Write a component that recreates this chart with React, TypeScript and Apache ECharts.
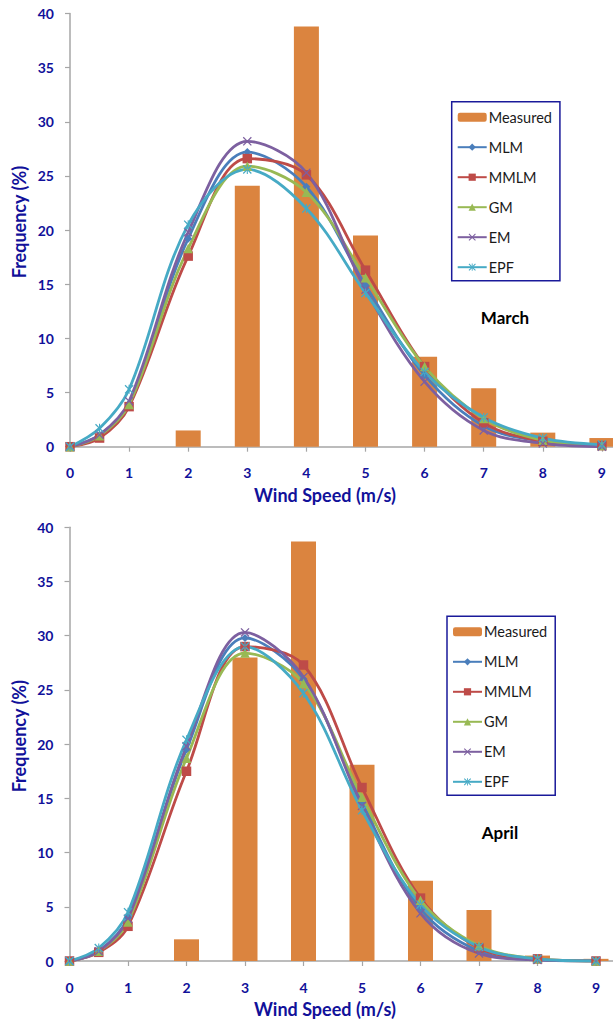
import React, { useEffect, useRef } from "react";
import * as echarts from "echarts";

const xs = [0, 0.5, 1, 2, 3, 4, 5, 6, 7, 8, 9];
const barXs = [2, 3, 4, 5, 6, 7, 8, 9];
const xTicks = [0, 1, 2, 3, 4, 5, 6, 7, 8, 9];

// March
const measuredMar = [1.5, 24.1, 38.8, 19.5, 8.3, 5.4, 1.3, 0.8];
const mlmMar = [0, 1.1, 4.0, 19.2, 27.2, 24.0, 14.9, 6.6, 1.9, 0.5, 0.1];
const mmlmMar = [0, 0.8, 3.7, 17.6, 26.6, 25.1, 16.3, 7.4, 2.2, 0.5, 0.1];
const gmMar = [0, 1.0, 3.9, 18.3, 25.9, 23.5, 15.6, 7.4, 2.6, 0.6, 0.1];
const emMar = [0, 1.1, 4.2, 19.8, 28.2, 25.3, 14.5, 6.0, 1.5, 0.3, 0.0];
const epfMar = [0, 1.7, 5.3, 20.5, 25.6, 22.0, 14.2, 6.9, 2.7, 0.8, 0.2];

// April
const measuredApr = [2.0, 28.0, 38.7, 18.1, 7.4, 4.7, 0.5, 0.2];
const mlmApr = [0, 0.9, 4.0, 19.5, 29.8, 26.0, 14.6, 4.8, 0.9, 0.1, 0.0];
const mmlmApr = [0, 0.8, 3.2, 17.5, 29.0, 27.3, 16.0, 5.8, 1.2, 0.2, 0.0];
const gmApr = [0, 0.9, 3.6, 18.7, 28.4, 25.6, 15.1, 5.6, 1.4, 0.2, 0.0];
const emApr = [0, 0.9, 3.9, 19.8, 30.3, 26.2, 14.3, 4.4, 0.7, 0.1, 0.0];
const epfApr = [0, 1.2, 4.5, 20.4, 29.0, 24.7, 13.9, 5.2, 1.3, 0.2, 0.0];

const seriesNames = ["Measured", "MLM", "MMLM", "GM", "EM", "EPF"];
const monthLabels = ["March", "April"];

const COLORS: Record<string, string> = {
  Measured: "#DB843F",
  MLM: "#4A7EBB",
  MMLM: "#BE4B48",
  GM: "#98B954",
  EM: "#7D60A0",
  EPF: "#46AAC5",
};

const X_PATH =
  "path://M1,0L5,4L9,0L10,1L6,5L10,9L9,10L5,6L1,10L0,9L4,5L0,1Z";
const STAR_PATH =
  "path://M1,0L5,4L9,0L10,1L6,5L10,9L9,10L5,6L1,10L0,9L4,5L0,1Z M4.4,0L4.4,10L5.6,10L5.6,0Z";

const SYMBOLS: Record<string, [string, number]> = {
  MLM: ["diamond", 8],
  MMLM: ["rect", 9.5],
  GM: ["triangle", 9.5],
  EM: [X_PATH, 9],
  EPF: [STAR_PATH, 9],
};

const AXIS_BLUE = "#11119A";
const FONT = "Lato, 'Open Sans', sans-serif";

export default function App() {
  const ref = useRef<HTMLDivElement>(null);

  useEffect(() => {
    if (!ref.current) return;
    const chart = echarts.init(ref.current, null, { renderer: "svg" });

    const grids = [
      { left: 70, top: 13.5, width: 543, height: 433.2, xMax: 543 / 59.1 },
      { left: 69.5, top: 527.3, width: 543.5, height: 433.7, xMax: 543.5 / 58.5 },
    ];
    const legendPos = [
      { left: 451.7, top: 101.7 },
      { left: 447, top: 616.3 },
    ];
    const monthPos = [
      { x: 505, y: 317 },
      { x: 500, y: 832 },
    ];

    const lineData = [
      { MLM: mlmMar, MMLM: mmlmMar, GM: gmMar, EM: emMar, EPF: epfMar },
      { MLM: mlmApr, MMLM: mmlmApr, GM: gmApr, EM: emApr, EPF: epfApr },
    ] as Record<string, number[]>[];
    const measured = [measuredMar, measuredApr];

    const series: any[] = [];
    grids.forEach((_, gi) => {
      series.push({
        type: "bar",
        name: "Measured",
        xAxisIndex: gi,
        yAxisIndex: gi,
        barWidth: 25,
        itemStyle: { color: COLORS.Measured },
        data: barXs.map((x, i) => [x, measured[gi][i]]),
        clip: true,
      });
      ["MLM", "MMLM", "GM", "EM", "EPF"].forEach((n) => {
        series.push({
          type: "line",
          name: n,
          xAxisIndex: gi,
          yAxisIndex: gi,
          smooth: 0.35,
          symbol: SYMBOLS[n][0],
          symbolSize: SYMBOLS[n][1],
          lineStyle: { width: 2.8, color: COLORS[n] },
          itemStyle: { color: COLORS[n] },
          data: xs.map((x, i) => [x, lineData[gi][n][i]]),
          clip: true,
        });
      });
    });

    const graphics: any[] = [];
    grids.forEach((g, gi) => {
      graphics.push({
        type: "text",
        x: 18.5,
        y: g.top + g.height / 2 - 8,
        rotation: Math.PI / 2,
        style: {
          text: "Frequency (%)",
          font: `bold 18px ${FONT}`,
          fill: AXIS_BLUE,
          textAlign: "center",
          textVerticalAlign: "middle",
        },
      });
      graphics.push({
        type: "text",
        x: 325,
        y: g.top + g.height + 48,
        style: {
          text: "Wind Speed (m/s)",
          font: `bold 18px ${FONT}`,
          fill: AXIS_BLUE,
          textAlign: "center",
          textVerticalAlign: "middle",
        },
      });
      graphics.push({
        type: "text",
        x: monthPos[gi].x,
        y: monthPos[gi].y,
        style: {
          text: monthLabels[gi],
          font: `bold 17px ${FONT}`,
          fill: "#000000",
          textAlign: "center",
          textVerticalAlign: "middle",
        },
      });
    });

    const option: any = {
      animation: false,
      backgroundColor: "#ffffff",
      grid: grids.map((g) => ({
        left: g.left,
        top: g.top,
        width: g.width,
        height: g.height,
        containLabel: false,
      })),
      xAxis: grids.map((g, gi) => ({
        type: "value",
        gridIndex: gi,
        min: 0,
        max: g.xMax,
        interval: 1,
        splitLine: { show: false },
        axisLine: { show: true, onZero: false, lineStyle: { color: "#A6A6A6", width: 1.5 } },
        axisTick: { show: true, length: 5, lineStyle: { color: "#A6A6A6", width: 1.2 } },
        axisLabel: {
          color: AXIS_BLUE,
          fontFamily: FONT,
          fontWeight: "bold",
          fontSize: 14,
          margin: 19,
          showMaxLabel: false,
          formatter: (v: number) => (xTicks.indexOf(v) >= 0 ? String(v) : ""),
        },
      })),
      yAxis: grids.map((_, gi) => ({
        type: "value",
        gridIndex: gi,
        min: 0,
        max: 40,
        interval: 5,
        splitLine: { show: false },
        axisLine: { show: true, lineStyle: { color: "#A6A6A6", width: 1.5 } },
        axisTick: { show: true, length: 5, lineStyle: { color: "#A6A6A6", width: 1.2 } },
        axisLabel: {
          color: AXIS_BLUE,
          fontFamily: FONT,
          fontWeight: "bold",
          fontSize: 14,
          margin: 16,
        },
      })),
      legend: legendPos.map((p) => ({
        orient: "vertical",
        left: p.left,
        top: p.top,
        data: seriesNames,
        itemWidth: 29,
        itemHeight: 9,
        itemGap: 15,
        padding: [8, 8, 6, 5],
        borderColor: "#1A1A9A",
        borderWidth: 1.5,
        backgroundColor: "#ffffff",
        selectedMode: false,
        textStyle: {
          color: "#1A1A1A",
          fontFamily: FONT,
          fontSize: 14.5,
          lineHeight: 14,
          padding: [0, 0, 0, -3],
        },
      })),
      series,
      graphic: graphics,
    };

    chart.setOption(option);
    return () => chart.dispose();
  }, []);

  return (
    <div
      ref={ref}
      style={{ position: "fixed", left: 0, top: 0, width: 613, height: 1024 }}
    />
  );
}
